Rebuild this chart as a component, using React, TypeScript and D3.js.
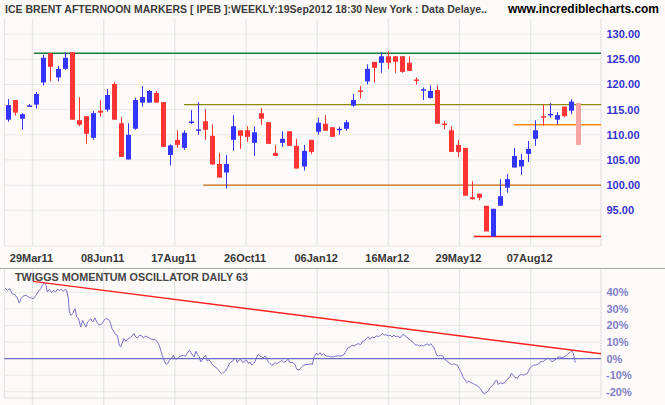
import React from "react";
import * as d3 from "d3";

// ---------- DATA ----------
const title = "ICE BRENT AFTERNOON MARKERS [ IPEB ]:WEEKLY:19Sep2012 18:30 New York : Data Delaye..";
const site = "www.incrediblecharts.com";
const oscTitle = "TWIGGS MOMENTUM OSCILLATOR DAILY 63";

const opens = [113.0,116.9,113.2,115.6,116.0,120.4,126.2,121.4,123.1,126.4,112.9,113.7,109.4,114.8,115.0,120.1,112.3,105.1,111.2,116.4,116.4,118.3,116.5,106.0,109.0,107.4,112.4,110.85,112.7,109.8,104.2,102.5,109.0,110.9,110.9,108.4,114.3,112.5,106.4,108.4,110.7,107.8,103.7,109.0,110.6,112.2,111.5,110.9,111.2,115.8,118.8,120.6,124.5,124.3,125.6,125.6,125.6,124.3,121.0,118.8,117.3,118.9,112.2,110.9,108.0,107.4,97.6,98.3,95.9,89.8,95.9,99.5,103.5,103.7,106.2,109.2,113.7,113.9,113.0,115.6,114.8,116.3];
const highs = [117.1,116.9,114.3,116.1,118.5,125.9,126.2,123.7,126.4,126.4,117.5,113.7,114.7,116.9,119.1,120.5,113.5,112.3,117.4,119.7,118.9,118.7,116.5,108.1,110.9,110.9,114.9,116.5,115.1,112.1,106.4,106.0,113.9,110.9,111.7,111.7,115.3,112.5,108.0,110.7,110.7,109.2,108.0,109.0,113.4,113.9,111.5,111.6,112.9,118.1,119.7,124.0,124.5,126.4,126.7,125.6,125.6,125.6,121.4,119.4,119.8,119.8,112.7,111.7,109.0,107.4,100.8,98.3,95.9,95.3,101.2,102.2,107.4,106.2,108.8,112.9,116.0,116.3,114.5,115.6,117.1,116.3];
const lows = [112.6,113.8,111.0,115.6,115.2,119.8,120.6,120.6,122.9,113.0,111.7,108.2,109.0,113.6,114.6,113.0,105.6,105.1,111.0,115.6,116.4,116.4,107.6,103.9,107.4,107.0,112.1,110.0,109.0,104.1,101.5,99.3,106.8,107.2,108.6,105.8,112.0,108.2,105.8,107.6,107.8,103.3,102.9,106.2,110.0,110.8,109.6,110.0,110.8,115.6,117.2,120.0,120.4,122.3,123.1,122.3,122.3,122.7,120.0,116.9,117.2,112.2,111.1,106.6,105.6,97.9,97.1,97.0,90.8,89.8,95.9,98.5,103.5,102.0,104.6,107.8,111.8,113.4,112.0,113.5,114.1,108.0];
const closes = [115.9,114.4,114.1,115.8,118.1,125.3,123.5,123.1,125.3,113.0,112.0,110.2,114.3,114.4,117.9,113.0,105.6,110.0,116.9,117.5,118.7,116.4,107.6,107.9,108.0,110.4,112.6,111.0,111.0,104.1,101.5,104.2,111.7,109.8,109.6,110.5,113.2,108.2,105.8,109.2,107.8,103.3,106.8,106.6,112.4,110.8,109.6,111.2,112.5,116.9,118.5,123.1,123.3,125.6,124.3,124.5,122.5,122.7,120.7,119.0,118.7,112.2,112.0,106.6,106.6,97.9,97.2,97.5,90.8,95.3,97.8,101.2,105.8,105.0,107.2,110.9,113.4,114.1,113.9,113.7,116.6,108.0];

const xLabels = ["29Mar11","08Jun11","17Aug11","26Oct11","06Jan12","16Mar12","29May12","07Aug12"];
const xTickPos = [3.4,13.4,23.4,33.4,43.4,53.4,63.4,73.4];
const priceTicks = [130,125,120,115,110,105,100,95];
const oscTicks = [40,30,20,10,0,-10,-20];

// horizontal support/resistance lines: value, start position
const levelValues = [126.2,116.0,100.0,112.0,89.8];
const levelStarts = [3.6,24.7,27.4,71.05,65.4];
const levelColors = ["#1e7a40","#8a8a00","#c86a10","#ff8c00","#ff1010"];

// momentum oscillator [position, %]
const osc: [number, number][] = [
[-0.46,42.6],[-0.14,41.2],[0.24,42.2],[0.52,39.2],[0.94,38.6],[1.27,36.5],[1.55,33.5],[1.78,36.1],[2.11,37.8],[2.49,38.2],[2.82,37.2],[3.14,36.7],[3.52,36.1],[3.89,38.2],[4.27,40.8],[4.55,42.2],[4.83,44.6],[5.06,46.2],[5.3,44.2],[5.49,40.2],[5.77,41.8],[6.09,39.8],[6.33,41.2],[6.66,40.2],[6.89,41.8],[7.17,41.2],[7.5,41.8],[7.73,40.6],[7.97,41.8],[8.2,41.2],[8.44,36.1],[8.58,28.1],[8.81,26.1],[9.04,27.1],[9.23,29.1],[9.37,30.1],[9.61,25.1],[9.89,24.1],[10.17,19.1],[10.45,23.1],[10.64,21.1],[10.92,19.1],[11.15,22.1],[11.39,23.1],[11.57,24.1],[11.85,22.1],[12.18,24.5],[12.42,22.1],[12.7,20.5],[12.89,20.5],[13.17,21.1],[13.45,23.1],[13.73,24.1],[14.06,23.7],[14.29,22.1],[14.57,18.1],[14.85,16.1],[15.09,14.5],[15.32,14.1],[15.6,8.0],[15.79,7.0],[16.07,10.0],[16.26,12.0],[16.54,10.4],[16.73,11.6],[17.01,12.4],[17.24,13.1],[17.48,14.1],[17.66,15.1],[17.9,13.1],[18.13,12.4],[18.41,14.1],[18.74,13.7],[18.97,12.4],[19.26,13.5],[19.54,13.1],[19.82,12.4],[20.14,11.6],[20.61,11.6],[20.94,10.0],[21.22,8.0],[21.41,5.0],[21.65,1.6],[21.88,-1.0],[22.16,-3.4],[22.39,-3.0],[22.63,-1.0],[22.91,0],[23.19,2.0],[23.42,0],[23.66,-0.4],[23.99,1.0],[24.27,1.6],[24.6,2.0],[24.88,1.4],[25.16,3.4],[25.44,5.0],[25.67,3.6],[25.91,2.0],[26.09,1.0],[26.37,4.4],[26.56,2.4],[26.84,1.0],[27.03,-2.0],[27.31,-0.4],[27.5,1.0],[27.73,2.0],[27.97,-1.6],[28.2,-0.6],[28.44,-2.0],[28.72,-4.0],[29.04,-5.0],[29.37,-6.0],[29.65,-7.6],[29.94,-9.0],[30.22,-8.4],[30.5,-7.6],[30.78,-5.6],[31.06,-3.0],[31.29,-2.0],[31.53,-1.6],[31.81,0.4],[32.0,-0.4],[32.18,-2.4],[32.37,-1.0],[32.65,-0.6],[32.93,-2.4],[33.21,-1.6],[33.49,-1.0],[33.73,-3.0],[33.96,-2.0],[34.2,-4.0],[34.43,-3.0],[34.67,-2.0],[34.9,1.0],[35.13,2.4],[35.37,1.6],[35.6,1.0],[35.84,0.4],[36.07,1.6],[36.31,0],[36.54,-2.0],[36.77,-3.0],[37.01,-4.0],[37.24,-3.6],[37.48,-2.4],[37.71,-3.2],[37.99,-2.4],[38.18,-2.0],[38.41,-1.0],[38.74,-2.4],[39.02,-1.6],[39.3,-0.4],[39.58,-2.4],[39.96,-2.4],[40.29,-3.6],[40.52,-6.4],[40.85,-7.0],
[41.22,-5.0],[41.46,-4.0],[41.83,-3.6],[42.16,-3.6],[42.49,-3.2],[42.72,-3.6],[42.96,1.0],[43.24,3.0],[43.57,2.4],[43.8,3.6],[44.03,2.0],[44.27,3.0],[44.64,1.6],[44.97,1.4],[45.3,1.0],[45.67,1.0],[46.05,1.6],[46.38,1.6],[46.7,1.6],[47.08,2.0],[47.45,4.4],[47.69,6.4],[48.02,7.0],[48.3,8.0],[48.58,7.6],[48.86,8.4],[49.19,9.0],[49.51,8.4],[49.8,10.4],[50.12,11.0],[50.36,12.4],[50.59,13.1],[50.83,11.6],[51.11,13.1],[51.39,12.4],[51.67,13.7],[52.04,13.3],[52.32,14.1],[52.61,15.1],[52.84,14.1],[53.07,14.5],[53.36,13.7],[53.64,14.1],[53.92,13.1],[54.2,14.1],[54.48,13.1],[54.76,13.7],[55.04,12.4],[55.32,14.1],[55.6,14.5],[55.88,13.1],[56.17,12.4],[56.45,11.0],[56.73,10.4],[57.01,9.0],[57.29,8.0],[57.48,8.4],[57.76,7.6],[58.04,8.0],[58.32,7.6],[58.6,8.4],[58.88,8.8],[59.16,8.0],[59.35,9.0],[59.54,8.0],[59.82,6.4],[60.01,4.4],[60.19,2.0],[60.47,1.6],[60.76,2.0],[61.04,1.6],[61.22,0],[61.51,-1.0],[61.79,-2.0],[62.07,-3.0],[62.3,-3.6],[62.54,-3.2],[62.82,-3.6],[63.1,-4.0],[63.38,-6.4],[63.66,-8.4],[63.94,-11.6],[64.22,-13.1],[64.41,-14.5],[64.69,-13.7],[64.97,-14.5],[65.25,-14.9],[65.53,-15.7],[65.81,-16.1],[66.1,-17.1],[66.38,-18.5],[66.66,-20.5],[66.94,-21.1],[67.13,-20.5],[67.41,-19.7],[67.69,-17.7],[67.92,-16.5],[68.16,-15.7],[68.39,-13.7],[68.63,-13.1],[68.86,-15.7],[69.09,-14.5],[69.47,-15.1],[69.8,-14.5],[70.03,-12.7],[70.4,-11.6],[70.69,-9.0],[70.87,-9.6],[71.06,-11.0],[71.34,-11.6],[71.53,-12.0],[71.81,-10.0],[72.09,-9.6],[72.37,-10.0],[72.65,-9.6],[72.93,-9.0],[73.21,-6.4],[73.5,-5.0],[73.78,-4.0],[74.06,-4.0],[74.34,-3.6],[74.62,-3.0],[74.81,-1.6],[75.09,-2.0],[75.37,-1.0],[75.65,-0.4],[75.89,0.4],[76.12,-0.6],[76.4,-2.0],[76.68,-1.0],[76.96,-0.4],[77.24,1.0],[77.52,1.0],[77.8,0.4],[78.09,1.0],[78.37,1.6],[78.65,3.0],[78.93,3.6],[79.16,4.8],[79.4,3.0],[79.59,-1.0],[79.68,-2.4]
];
const oscTrend: [number, number][] = [[3.47,46.6],[83.4,2.8]];

// ---------- LAYOUT ----------
const W = 665, H = 405;
const PL = 4.5, PR = 601;
const mainTop = 19, mainBot = 246;
const lowTop = 269, lowBot = 398;
const FONT = "'Liberation Sans', Arial, Helvetica, sans-serif";
const BLUE = "#3434ff", RED = "#ff3434", PINK = "#ffa4a4";

export default function App() {
  const x = d3.scaleLinear().domain([0, 80]).range([8.3, 577.66]);
  const n = closes.length;
  const cx = (i: number) => x((i * 80) / (n - 1));
  const y = d3.scaleLinear().domain([95, 125]).range([210.3, 59.3]);
  const yo = d3.scaleLinear().domain([-20, 40]).range([391.7, 292.3]);
  const line = d3.line<[number, number]>().x(d => x(d[0])).y(d => yo(d[1]));
  const bw = 5;

  return (
    <svg width={W} height={H} style={{ position: "absolute", left: 0, top: 0, background: "#fffafa" }} fontFamily={FONT}>
      <defs>
        <clipPath id="lowclip"><rect x={PL} y={lowTop} width={PR - PL} height={lowBot - lowTop} /></clipPath>
      </defs>
      <rect x={0} y={0} width={W} height={H} fill="#fffafa" />
      {/* header */}
      <text x={5} y={12.5} fontSize={11} fontWeight="bold" fill="#3c3c3c" textLength={482} lengthAdjust="spacingAndGlyphs">{title}</text>
      <text x={508} y={13} fontSize={12} fontWeight="bold" fill="#000" textLength={151} lengthAdjust="spacingAndGlyphs">{site}</text>

      {/* main panel frame & grid */}
      {xTickPos.map((t, i) => (
        <line key={"vg" + i} x1={x(t)} x2={x(t)} y1={mainTop} y2={mainBot} stroke="#e8e6e6" strokeWidth={1.3} />
      ))}
      {priceTicks.map((v, i) => (
        <line key={"hg" + i} x1={PL} x2={PR} y1={y(v)} y2={y(v)} stroke="#d6d6d6" strokeDasharray="1,1" />
      ))}
      <line x1={PL} x2={PL} y1={mainTop} y2={mainBot} stroke="#e6e4e4" strokeWidth={1.3} />
      <line x1={PR} x2={PR} y1={mainTop} y2={mainBot} stroke="#e6e4e4" strokeWidth={1.3} />
      <line x1={PL} x2={PR} y1={mainBot} y2={mainBot} stroke="#e6e4e4" strokeWidth={1} />

      {levelValues.map((v, i) => (
        <line key={"lv" + i} x1={x(levelStarts[i])} x2={PR} y1={y(v)} y2={y(v)} stroke={levelColors[i]} strokeWidth={1.4} />
      ))}

      {/* candles */}
      {closes.map((c, i) => {
        const o = opens[i];
        const up = c >= o;
        const last = i === n - 1;
        const col = last ? PINK : up ? BLUE : RED;
        const xc = Math.round(cx(i)) + 0.5;
        const top = y(Math.max(o, c));
        const bot = y(Math.min(o, c));
        const h = Math.max(1.5, bot - top);
        return (
          <g key={"c" + i}>
            <line x1={xc} x2={xc} y1={y(highs[i])} y2={y(lows[i])} stroke={col} strokeWidth={1} />
            <rect x={xc - bw / 2} y={top - (h - (bot - top)) / 2} width={bw} height={h} fill={col} />
          </g>
        );
      })}

      {/* price labels */}
      {priceTicks.map((v, i) => (
        <text key={"pl" + i} x={606.5} y={y(v) + 4} fontSize={11} fontWeight="bold" fill="#3434d0">{v.toFixed(2)}</text>
      ))}

      {/* x labels */}
      {xLabels.map((l, i) => (
        <text key={"xl" + i} x={x(xTickPos[i]) - 1} y={261.5} fontSize={11} fontWeight="bold" fill="#383838" textAnchor="middle">{l}</text>
      ))}

      {/* lower panel */}
      <line x1={0} x2={W} y1={lowTop - 0.5} y2={lowTop - 0.5} stroke="#a8a8a8" strokeWidth={1.2} />
      {xTickPos.map((t, i) => (
        <line key={"lvg" + i} x1={x(t)} x2={x(t)} y1={lowTop} y2={H} stroke="#e8e6e6" strokeWidth={1.3} />
      ))}
      {oscTicks.filter(v => v !== 0).map((v, i) => (
        <line key={"lhg" + i} x1={PL} x2={PR} y1={yo(v)} y2={yo(v)} stroke="#d6d6d6" strokeDasharray="1,1" />
      ))}
      <line x1={PL} x2={PL} y1={lowTop} y2={lowBot} stroke="#e6e4e4" strokeWidth={1.3} />
      <line x1={PR} x2={PR} y1={lowTop} y2={lowBot} stroke="#e6e4e4" strokeWidth={1.3} />
      <line x1={PL} x2={PR} y1={lowBot} y2={lowBot} stroke="#e0dede" strokeWidth={1} />
      <line x1={PL} x2={PR} y1={yo(0)} y2={yo(0)} stroke="#6a6ac0" strokeWidth={1.2} />
      <path d={line(osc) || ""} fill="none" stroke="#7474c8" strokeWidth={1} />
      <g clipPath="url(#lowclip)">
        <path d={line(oscTrend) || ""} fill="none" stroke="#ff2020" strokeWidth={1.4} />
      </g>
      <text x={15} y={281} fontSize={11} fontWeight="bold" fill="#454545" textLength={233} lengthAdjust="spacingAndGlyphs">{oscTitle}</text>
      {oscTicks.map((v, i) => (
        <text key={"ol" + i} x={v < 0 ? 606 : 606.5} y={yo(v) + 4} fontSize={11} fontWeight="bold" fill="#8080c8">{v + "%"}</text>
      ))}
    </svg>
  );
}
